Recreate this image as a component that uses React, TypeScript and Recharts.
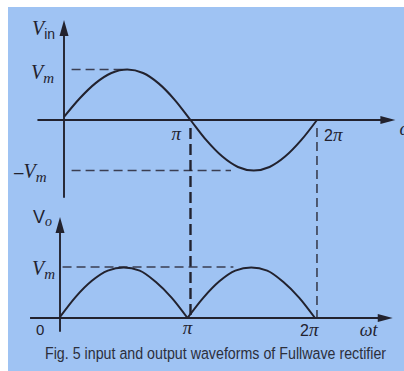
import React, { useLayoutEffect, useRef, useState } from 'react';
import { LineChart, Line, XAxis, YAxis, ReferenceLine, ReferenceDot } from 'recharts';

// phase in units of pi, voltages in units of Vm
const phase = [0, 0.125, 0.25, 0.375, 0.5, 0.625, 0.75, 0.875, 1, 1.125, 1.25, 1.375, 1.5, 1.625, 1.75, 1.875, 2];
const vin = [0.06, 0.43, 0.73, 0.93, 1, 0.93, 0.72, 0.4, 0, -0.4, -0.72, -0.93, -1, -0.93, -0.72, -0.4, 0];
const humpPhase1 = [0, 0.125, 0.25, 0.375, 0.5, 0.625, 0.75, 0.875, 1];
const hump1 = [0.02, 0.42, 0.73, 0.93, 0.99, 0.93, 0.71, 0.4, 0];
const humpPhase2 = [1, 1.125, 1.25, 1.375, 1.5, 1.625, 1.75, 1.875, 2];
const hump2 = [0, 0.4, 0.72, 0.93, 0.99, 0.93, 0.71, 0.4, 0];
const piTicks = [1, 2];
const caption = 'Fig. 5 input and output waveforms of Fullwave rectifier';

const inData = phase.map((x, i) => ({ x, v: vin[i] }));
const outData1 = humpPhase1.map((x, i) => ({ x, v: hump1[i] }));
const outData2 = humpPhase2.map((x, i) => ({ x, v: hump2[i] }));

const ink = '#22222e';
const serif = '"Liberation Serif", "DejaVu Serif", serif';
const sans = '"Liberation Sans", Arial, sans-serif';

const upArrow = (p: any) => (
  <polygon points={`${p.cx},${p.cy} ${p.cx - 4.5},${p.cy + 16} ${p.cx + 4.5},${p.cy + 16}`} fill={ink} />
);
const rightArrow = (p: any) => (
  <polygon points={`${p.cx},${p.cy} ${p.cx - 15},${p.cy - 4} ${p.cx - 15},${p.cy + 4}`} fill={ink} />
);

// text placed relative to a data anchor
const tag = (dx: number, dy: number, body: React.ReactNode, anchor = 'start') => (p: any) => (
  <text x={p.cx + dx} y={p.cy + dy} textAnchor={anchor} fill={ink}>
    {body}
  </text>
);

const V = (sub: string, subSans = false) => (
  <>
    <tspan fontFamily={serif} fontStyle="italic" fontSize={20}>V</tspan>
    <tspan
      fontFamily={subSans ? sans : serif}
      fontStyle={subSans ? 'normal' : 'italic'}
      fontSize={subSans ? 14 : 15}
      dy={4}
    >
      {sub}
    </tspan>
  </>
);
const piText = (n: number) => (
  <>
    {n > 1 && <tspan fontFamily={sans} fontSize={16}>{n}</tspan>}
    <tspan fontFamily={serif} fontStyle="italic" fontSize={19}>π</tspan>
  </>
);
const wt = (
  <tspan fontFamily={serif} fontStyle="italic" fontSize={18}>ωt</tspan>
);

const hidden = { position: 'absolute' as const, left: 0, top: 0 };

function Caption() {
  const ref = useRef<SVGTextElement>(null);
  const [sx, setSx] = useState(0.8);
  useLayoutEffect(() => {
    if (ref.current) {
      const w = ref.current.getComputedTextLength();
      if (w > 0) setSx(341 / w);
    }
  }, []);
  return (
    <svg width={404} height={371} style={hidden}>
      <text
        ref={ref}
        transform={`translate(45,359) scale(${sx},1)`}
        fontFamily={'"Liberation Sans Narrow", "Liberation Sans", sans-serif'}
        fontSize={17}
        fill="#2c2f3c"
      >
        {caption}
      </text>
    </svg>
  );
}

export default function App() {
  return (
    <div style={{ position: 'relative', width: 404, height: 371, background: '#ffffff', overflow: 'hidden' }}>
      <style>{'body{margin:0}'}</style>
      <div style={{ position: 'absolute', left: 8, top: 7, right: 0, bottom: 0, background: '#9fc3f3' }} />

      {/* input waveform */}
      <div style={hidden}>
        <LineChart width={404} height={371} data={inData} margin={{ top: 0, right: 0, bottom: 0, left: 0 }}>
          <XAxis type="number" dataKey="x" domain={[-0.506, 2.688]} allowDataOverflow hide />
          <YAxis type="number" domain={[-4.97, 2.376]} allowDataOverflow hide />
          <ReferenceLine segment={[{ x: -0.21, y: 0 }, { x: 2.56, y: 0 }]} stroke={ink} strokeWidth={1.9} />
          <ReferenceLine segment={[{ x: 0, y: -1.54 }, { x: 0, y: 1.8 }]} stroke={ink} strokeWidth={1.9} />
          <ReferenceLine segment={[{ x: 0.06, y: 1 }, { x: 0.5, y: 1 }]} stroke="#3a3e52" strokeWidth={1.3} strokeDasharray="9 5" />
          <ReferenceLine segment={[{ x: 0.06, y: -1 }, { x: 1.32, y: -1 }]} stroke="#3a3e52" strokeWidth={1.3} strokeDasharray="9 5" />
          <ReferenceLine segment={[{ x: piTicks[0], y: -0.16 }, { x: piTicks[0], y: -3.92 }]} stroke={ink} strokeWidth={2.4} strokeDasharray="11 5" />
          <ReferenceLine segment={[{ x: piTicks[1], y: -0.16 }, { x: piTicks[1], y: -3.92 }]} stroke="#2c2c3a" strokeWidth={1.4} strokeDasharray="9 5" />
          <Line dataKey="v" type="monotone" stroke={ink} strokeWidth={2} dot={false} isAnimationActive={false} />
          <ReferenceDot x={0} y={1.98} r={0} shape={upArrow} />
          <ReferenceDot x={2.62} y={0} r={0} shape={rightArrow} />
          <ReferenceDot x={0} y={1.98} r={0} shape={tag(-32, 15, V('in', true))} />
          <ReferenceDot x={0} y={1} r={0} shape={tag(-33, 10, V('m'))} />
          <ReferenceDot x={0} y={-1} r={0} shape={tag(-50, 7, <><tspan fontFamily={sans} fontSize={17}>–</tspan>{V('m')}</>)} />
          <ReferenceDot x={piTicks[0]} y={0} r={0} shape={tag(-19, 20, piText(1))} />
          <ReferenceDot x={piTicks[1]} y={0} r={0} shape={tag(7, 21, piText(2))} />
          <ReferenceDot x={2.62} y={0} r={0} shape={tag(4, 15, wt)} />
        </LineChart>
      </div>

      {/* rectified output */}
      <div style={hidden}>
        <LineChart width={404} height={371} margin={{ top: 0, right: 0, bottom: 0, left: 0 }}>
          <XAxis type="number" dataKey="x" domain={[-0.4706, 2.698]} allowDataOverflow hide />
          <YAxis type="number" domain={[-1.039, 6.235]} allowDataOverflow hide />
          <ReferenceLine segment={[{ x: -0.235, y: 0 }, { x: 2.55, y: 0 }]} stroke={ink} strokeWidth={1.9} />
          <ReferenceLine segment={[{ x: 0, y: -0.27 }, { x: 0, y: 1.8 }]} stroke={ink} strokeWidth={1.9} />
          <ReferenceLine segment={[{ x: 0.02, y: 1 }, { x: 1.36, y: 1 }]} stroke="#3a3e52" strokeWidth={1.3} strokeDasharray="9 5" />
          <Line data={outData1} dataKey="v" type="monotone" stroke={ink} strokeWidth={2} dot={false} isAnimationActive={false} />
          <Line data={outData2} dataKey="v" type="monotone" stroke={ink} strokeWidth={2} dot={false} isAnimationActive={false} />
          <ReferenceDot x={0} y={1.98} r={0} shape={upArrow} />
          <ReferenceDot x={2.61} y={0} r={0} shape={rightArrow} />
          <ReferenceDot x={0} y={1.98} r={0} shape={tag(-27, 6, <><tspan fontFamily={sans} fontSize={18}>V</tspan><tspan fontFamily={serif} fontStyle="italic" fontSize={14} dy={3}>o</tspan></>)} />
          <ReferenceDot x={0} y={1} r={0} shape={tag(-28, 8, V('m'))} />
          <ReferenceDot x={0} y={0} r={0} shape={tag(-24, 17, <tspan fontFamily={sans} fontSize={15}>0</tspan>)} />
          <ReferenceDot x={piTicks[0]} y={0} r={0} shape={tag(0, 16, piText(1), 'middle')} />
          <ReferenceDot x={piTicks[1]} y={0} r={0} shape={tag(-15, 18, piText(2))} />
          <ReferenceDot x={2.61} y={0} r={0} shape={tag(-33, 18, wt)} />
        </LineChart>
      </div>

      <Caption />
    </div>
  );
}
